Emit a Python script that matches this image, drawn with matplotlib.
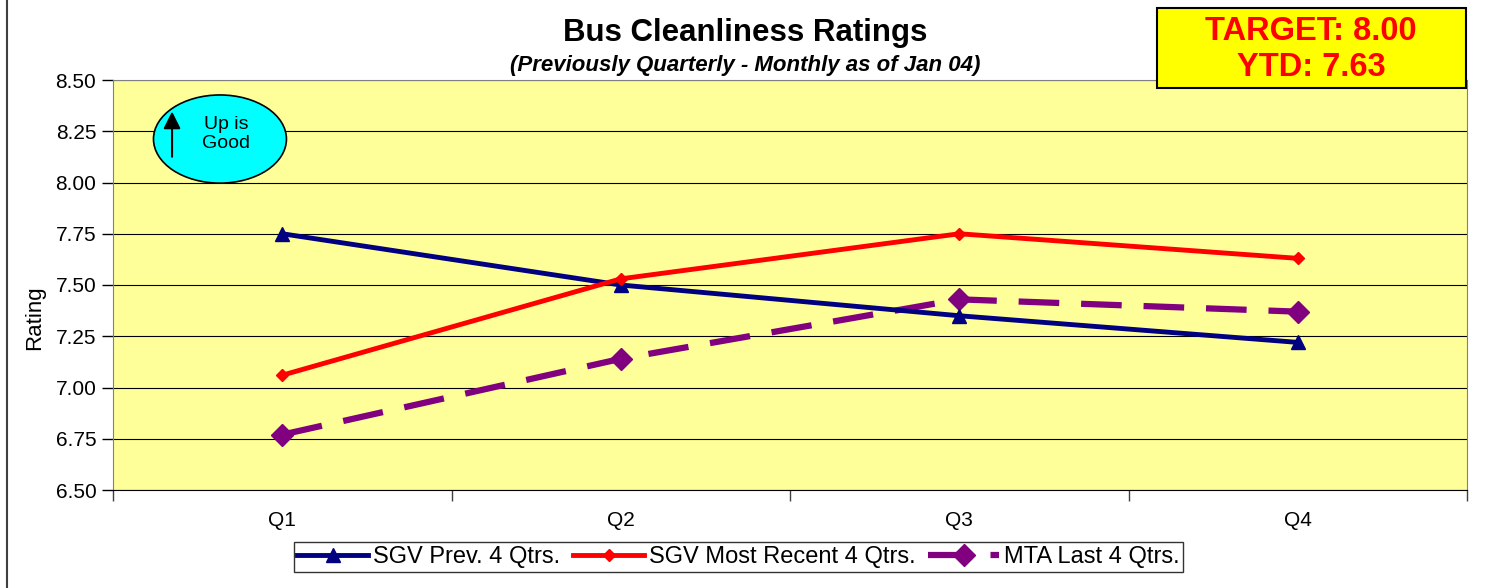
import matplotlib
matplotlib.use("Agg")
import matplotlib.pyplot as plt
from matplotlib.patches import Ellipse, Rectangle
from matplotlib.lines import Line2D

plt.rcParams['font.family'] = ['Liberation Sans', 'DejaVu Sans']

quarters = ['Q1', 'Q2', 'Q3', 'Q4']
sgv_prev = [7.75, 7.50, 7.35, 7.22]
sgv_recent = [7.06, 7.53, 7.75, 7.63]
mta_last = [6.77, 7.14, 7.43, 7.37]
yticks = [6.50, 6.75, 7.00, 7.25, 7.50, 7.75, 8.00, 8.25, 8.50]

fig = plt.figure(figsize=(14.94, 5.88), dpi=100)
ax = fig.add_axes([113 / 1494, 1 - 490 / 588, 1354 / 1494, 410 / 588])
ax.set_facecolor('#FFFF99')

x = range(len(quarters))
ax.plot(x, sgv_prev, color='#000080', lw=3.5, marker='^', ms=10,
        label='SGV Prev. 4 Qtrs.', zorder=4)
ax.plot(x, sgv_recent, color='#FF0000', lw=3.5, marker='D', ms=6,
        label='SGV Most Recent 4 Qtrs.', zorder=5)
ax.plot(x, mta_last, color='#800080', lw=4.5, marker='D', ms=11.5,
        dashes=(6.5, 3.5), label='MTA Last 4 Qtrs.', zorder=3)

ax.set_xlim(-0.5, 3.5)
ax.set_ylim(6.5, 8.5)
ax.set_yticks(yticks)
ax.set_yticklabels(['%.2f' % v for v in yticks])
ax.set_xticks(list(x))
ax.set_xticklabels(quarters)
ax.set_xticks([-0.5, 0.5, 1.5, 2.5, 3.5], minor=True)
ax.tick_params(axis='x', which='major', length=0, pad=15, labelsize=15)
ax.tick_params(axis='x', which='minor', length=8, width=1, color='#404040')
ax.tick_params(axis='y', length=8, width=1, labelsize=15, pad=4)
ax.yaxis.grid(True, color='black', lw=0.8)
ax.set_axisbelow(True)
for s in ['left', 'top', 'right']:
    ax.spines[s].set_color('#808080')
ax.spines['bottom'].set_color('black')
ax.set_ylabel('Rating', fontsize=16)
ax.yaxis.set_label_coords(-0.05, 0.42)

# "Up is Good" bubble
ax.add_patch(Ellipse((0.079, 0.856), 0.0982, 0.215, transform=ax.transAxes,
                     facecolor='#00FFFF', edgecolor='black', lw=1.2, zorder=6))
ax.annotate('', xy=(0.0436, 0.93), xytext=(0.0436, 0.806), xycoords='axes fraction',
            arrowprops=dict(arrowstyle='-|>', color='black', lw=1.5, mutation_scale=26),
            zorder=7)
ax.text(0.0835, 0.868, 'Up is\nGood', transform=ax.transAxes, ha='center', va='center',
        fontsize=14, zorder=7, linespacing=1.15)

fig.text(0.499, 1 - 33 / 588, 'Bus Cleanliness Ratings', ha='center', va='center',
         fontsize=22.5, fontweight='bold')
fig.text(0.499, 1 - 65 / 588, '(Previously Quarterly - Monthly as of Jan 04)',
         ha='center', va='center', fontsize=16, fontweight='bold', style='italic')

# target box
fig.add_artist(Rectangle((1157 / 1494, 1 - 88 / 588), 309 / 1494, 80 / 588,
                         transform=fig.transFigure, facecolor='#FFFF00',
                         edgecolor='black', lw=1.5))
fig.text(1311 / 1494, 1 - 32 / 588, 'TARGET: 8.00', ha='center', va='center',
         fontsize=23.5, fontweight='bold', color='#FF0000')
fig.text(1311 / 1494, 1 - 68 / 588, 'YTD: 7.63', ha='center', va='center',
         fontsize=23.5, fontweight='bold', color='#FF0000')

fig.add_artist(Line2D([7 / 1494, 7 / 1494], [0, 1], transform=fig.transFigure,
                      color='#404040', lw=1.5))

leg = fig.legend(loc='center', bbox_to_anchor=(738.5 / 1494, 1 - 557 / 588), ncol=3,
                 fontsize=17, frameon=True, fancybox=False, edgecolor='black',
                 handlelength=3.0, columnspacing=0.55, handletextpad=0.2,
                 borderpad=0.15, borderaxespad=0)
leg.get_frame().set_linewidth(1)

fig.savefig('out.png', dpi=100)
